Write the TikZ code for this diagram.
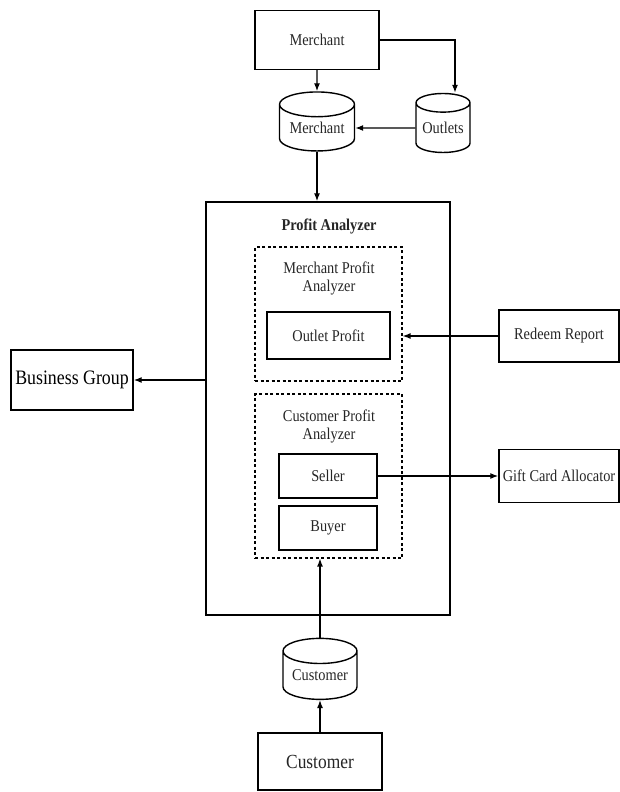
\documentclass[tikz,border=0pt]{standalone}
\usepackage{fontspec}
\setmainfont{Liberation Serif}[FakeStretch=0.87]
\usetikzlibrary{shapes.geometric,arrows.meta}

\begin{document}
\begin{tikzpicture}[
  x=1pt, y=-1pt,
  >={Latex[length=8pt,width=6pt]},
  every node/.style={align=center, font=\fontsize{16.5}{18}\selectfont, text=black!85},
  box/.style={rectangle, draw, line width=1.4pt, inner sep=0pt},
  store/.style={cylinder, shape border rotate=90, aspect=0.45, draw, line width=1.4pt, inner sep=0pt},
  group/.style={rectangle, draw, line width=1.2pt, dash pattern=on 3pt off 2.5pt, inner sep=0pt},
  link/.style={->, line width=1.3pt}
]
\useasboundingbox (0,0) rectangle (620,792);

% Merchant source and its stores
\node[box, minimum width=124pt, minimum height=59pt] (mtop) at (317,40) {Merchant};
\node[store, minimum width=75pt, minimum height=59pt] (mdb) at (317,128) {Merchant};
\node[store, minimum width=54pt, minimum height=59pt] (odb) at (443,128) {Outlets};

% Profit Analyzer
\node[box, minimum width=244pt, minimum height=413pt] (pa) at (328,408.5) {};
\node[font=\fontsize{16.5}{18}\selectfont\bfseries] (patitle) at (329,226) {Profit Analyzer};

% Merchant Profit Analyzer
\node[group, minimum width=147pt, minimum height=134pt] (mpa) at (328.5,314) {};
\node (mpatitle) at (329,278) {Merchant Profit\\Analyzer};
\node[box, minimum width=123pt, minimum height=47pt] (op) at (328.5,335.5) {Outlet Profit};

% Customer Profit Analyzer
\node[group, minimum width=147pt, minimum height=164pt] (cpa) at (328.5,476) {};
\node (cpatitle) at (329,426.5) {Customer Profit\\Analyzer};
\node[box, minimum width=98pt, minimum height=44pt] (sel) at (328,476) {Seller};
\node[box, minimum width=98pt, minimum height=44pt] (buy) at (328,528) {Buyer};

% Outside parties
\node[box, minimum width=122pt, minimum height=60pt, font=\fontsize{20.5}{22}\selectfont, text=black] (bg) at (72,380) {Business Group};
\node[box, minimum width=120pt, minimum height=52pt] (rr) at (559,336) {Redeem Report};
\node[box, minimum width=120pt, minimum height=53pt] (gca) at (559,476) {Gift Card Allocator};

% Customer source and store
\node[store, minimum width=74pt, minimum height=61pt] (cdb) at (320,675.5) {Customer};
\node[box, minimum width=124pt, minimum height=57pt, font=\fontsize{20}{22}\selectfont] (cbox) at (320,761.5) {Customer};

% Arrows
\draw[link] (mtop.south) -- (mdb.north);
\draw[link] (mtop.east) -| ([xshift=12pt]odb.north);
\draw[link] (odb.west) -- (mdb.east);
\draw[link] (mdb.south) -- (mdb.south |- pa.north);
\draw[link] (rr.west) -- (rr.west -| mpa.east);
\draw[link] (bg.east -| pa.west) -- (bg.east);
\draw[link] (sel.east) -- (gca.west);
\draw[link] (cdb.north) -- (cdb.north |- cpa.south);
\draw[link] (cbox.north) -- (cdb.south);

\end{tikzpicture}
\end{document}
